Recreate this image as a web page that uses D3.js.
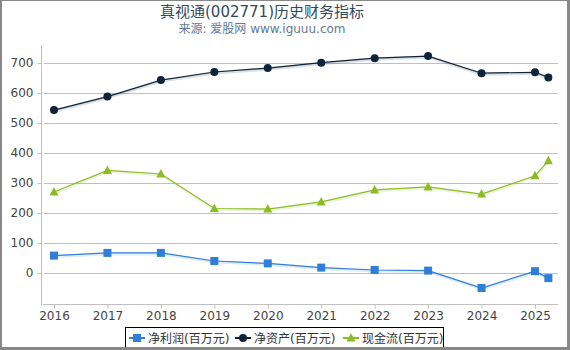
<!DOCTYPE html>
<html>
<head>
<meta charset="utf-8">
<script src="https://cdn.jsdelivr.net/npm/d3@7"></script>
<style>
    body { margin: 0; background: #fff; }
    svg text { font-family: "DejaVu Sans", "Noto Sans CJK SC", sans-serif; }
</style>
</head>
<body>
<svg id="chart" width="570" height="350"></svg>
<script>
// years on the x axis (last point is a partial year)
var years = [2016, 2017, 2018, 2019, 2020, 2021, 2022, 2023, 2024, 2025, 2025.25];
var year_ticks = [2016, 2017, 2018, 2019, 2020, 2021, 2022, 2023, 2024, 2025];
var y_ticks = [0, 100, 200, 300, 400, 500, 600, 700];

var net_profit = [58, 67, 67, 40, 32, 18, 10, 8, -50, 6, -17];
var net_assets = [543, 588, 643, 670, 683, 701, 716, 723, 666, 669, 652];
var cash_flow = [270, 342, 330, 215, 213, 237, 277, 287, 263, 324, 374];

var series = [
    { name: '净利润(百万元)', values: net_profit, color: '#2f7ed8', marker: 'square' },
    { name: '净资产(百万元)', values: net_assets, color: '#0d233a', marker: 'circle' },
    { name: '现金流(百万元)', values: cash_flow, color: '#8bbc21', marker: 'triangle' },
];

var svg = d3.select('#chart');

var x = d3.scaleLinear().domain([2016, 2025]).range([54, 535]);
var y = d3.scaleLinear().domain([0, 700]).range([273, 63]);

// frame
svg.append('rect').attr('x', 0.5).attr('y', 0.5).attr('width', 568).attr('height', 348)
    .attr('fill', 'none').attr('stroke', '#888').attr('stroke-width', 1);
svg.append('rect').attr('x', 0).attr('y', 0).attr('width', 2).attr('height', 350).attr('fill', '#888');
svg.append('rect').attr('x', 567).attr('y', 0).attr('width', 3).attr('height', 350).attr('fill', '#888');

// titles
svg.append('text').attr('x', 262).attr('y', 17).attr('text-anchor', 'middle')
    .attr('font-size', 15).attr('fill', '#34495e').text('真视通(002771)历史财务指标');
svg.append('text').attr('x', 262).attr('y', 33).attr('text-anchor', 'middle')
    .attr('font-size', 12).attr('fill', '#5f7a99').text('来源: 爱股网 www.iguuu.com');

// grid
svg.append('g').selectAll('line').data(y_ticks).enter().append('line')
    .attr('x1', 44).attr('x2', 558)
    .attr('y1', d => Math.round(y(d)) + 0.5).attr('y2', d => Math.round(y(d)) + 0.5)
    .attr('stroke', '#c0c0c0').attr('stroke-width', 1);

// y axis
var yAxis = svg.append('g').attr('transform', 'translate(41.5,0)')
    .call(d3.axisLeft(y).tickValues(y_ticks).tickSize(4).tickPadding(4));
yAxis.select('.domain').remove();
yAxis.append('line').attr('x1', 0).attr('x2', 0).attr('y1', 45).attr('y2', 305).attr('stroke', '#c0c0c0');

// x axis
var xAxis = svg.append('g').attr('transform', 'translate(0,304.5)')
    .call(d3.axisBottom(x).tickValues(year_ticks).tickFormat(d3.format('d')).tickSize(4).tickPadding(3));
xAxis.select('.domain').remove();
xAxis.append('line').attr('x1', 43).attr('x2', 558).attr('stroke', '#c0c0c0');

svg.selectAll('.tick line').attr('stroke', '#c0c0c0');
svg.selectAll('.tick text').attr('font-size', 12).attr('fill', '#444')
    .style('font-family', '"DejaVu Sans", sans-serif');

function drawMarker(g, type, color) {
    if (type == 'square')
        g.append('rect').attr('x', -4).attr('y', -4).attr('width', 8).attr('height', 8).attr('fill', color);
    else if (type == 'circle')
        g.append('circle').attr('r', 4).attr('fill', color);
    else
        g.append('path').attr('d', 'M0,-5L4.5,3.5L-4.5,3.5Z').attr('fill', color);
}

var line = d3.line().x((d, i) => x(years[i])).y(d => y(d));

series.forEach(function (s) {
    var g = svg.append('g');
    // soft shadow under the line
    g.append('path').attr('d', line(s.values)).attr('fill', 'none')
        .attr('stroke', s.color).attr('stroke-opacity', 0.15).attr('stroke-width', 3)
        .attr('transform', 'translate(0.5,1)');
    g.append('path').attr('d', line(s.values)).attr('fill', 'none')
        .attr('stroke', s.color).attr('stroke-width', 1.2);
    s.values.forEach(function (v, i) {
        var m = g.append('g').attr('transform', 'translate(' + x(years[i]) + ',' + y(v) + ')');
        drawMarker(m, s.marker, s.color);
    });
});

// legend
var legend = svg.append('g');
legend.append('rect').attr('x', 125.5).attr('y', 327.5).attr('width', 318).attr('height', 24)
    .attr('fill', '#fff').attr('stroke', '#000').attr('stroke-width', 1);
var legend_x = [137, 243, 351];
series.forEach(function (s, i) {
    var lg = legend.append('g').attr('transform', 'translate(' + legend_x[i] + ',338)');
    lg.append('line').attr('x1', -8).attr('x2', 8).attr('stroke', s.color).attr('stroke-width', 2);
    drawMarker(lg, s.marker, s.color);
    lg.append('text').attr('x', 11).attr('y', 4.5).attr('font-size', 12).attr('fill', '#333').text(s.name);
});
// frame bottom drawn over the legend
svg.append('rect').attr('x', 0).attr('y', 347).attr('width', 570).attr('height', 3).attr('fill', '#888');
</script>
</body>
</html>
